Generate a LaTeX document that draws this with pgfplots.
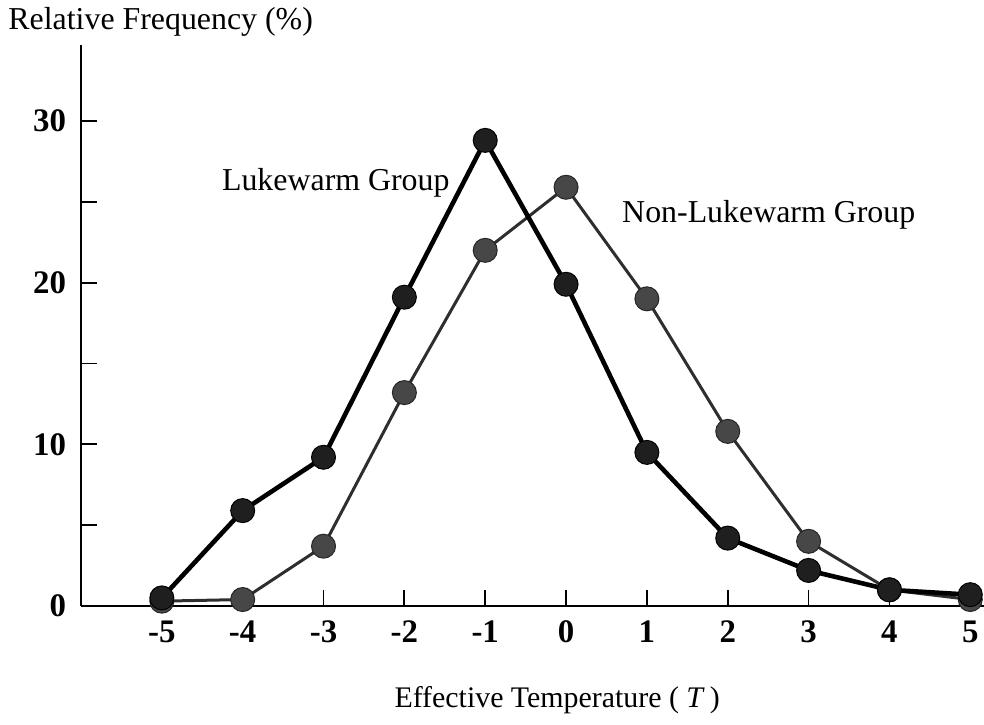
\documentclass[border=0pt]{standalone}
\usepackage{pgfplots}
\pgfplotsset{compat=1.18}
\usepackage{fontspec}
\setmainfont{Liberation Serif}
\begin{document}
\begin{tikzpicture}
\useasboundingbox (-40.5bp,-59.5bp) rectangle (451.5bp,303bp);
\begin{axis}[
  scale only axis,
  width=451.5bp, height=280.5bp,
  xmin=-6.0, xmax=5.17,
  ymin=0, ymax=34.7,
  axis x line=bottom, axis y line=left,
  axis line style={line width=1.1bp, -},
  xtick={-5,-4,-3,-2,-1,0,1,2,3,4,5},
  xticklabels={-5,-4,-3,-2,-1,0,1,2,3,4,5},
  ytick={0,10,20,30},
  yticklabels={0,10,20,30},
  minor ytick={5,15,25},
  tick align=inside,
  major tick length=8bp,
  minor tick length=8bp,
  tick style={line width=0.9bp, black},
  ticklabel style={font=\fontsize{16.5}{18}\selectfont\bfseries},
  xticklabel style={yshift=-4bp},
  yticklabel style={xshift=-4bp},
  clip=false,
]
\addplot[line width=1.5bp, black!82, mark=*, mark size=6bp,
  mark options={fill=black!72, draw=black!85, line width=0.5bp}]
  coordinates {(-5,0.3) (-4,0.4) (-3,3.7) (-2,13.2) (-1,22.0) (0,25.9) (1,19.0) (2,10.8) (3,4.0) (4,1.0) (5,0.4)};
\addplot[line width=2.3bp, black, mark=*, mark size=6bp,
  mark options={fill=black!88, draw=black, line width=0.5bp}]
  coordinates {(-5,0.5) (-4,5.9) (-3,9.2) (-2,19.1) (-1,28.8) (0,19.9) (1,9.5) (2,4.2) (3,2.2) (4,1.0) (5,0.7)};
\node[anchor=west, font=\fontsize{16}{18}\selectfont, inner sep=0pt] at (axis cs:-4.26,26.2) {Lukewarm Group};
\node[anchor=west, font=\fontsize{16}{18}\selectfont, inner sep=0pt] at (axis cs:0.69,24.2) {Non-Lukewarm Group};
\node[anchor=west, font=\fontsize{16}{18}\selectfont, inner sep=0pt] at ([xshift=-36.5bp,yshift=11.5bp]rel axis cs:0,1) {Relative Frequency (\%)};
\node[font=\fontsize{15}{18}\selectfont, inner sep=0pt] at ([yshift=-47bp]axis cs:-0.11,0) {Effective Temperature ( \textit{T}\,)};
\end{axis}
\end{tikzpicture}
\end{document}
